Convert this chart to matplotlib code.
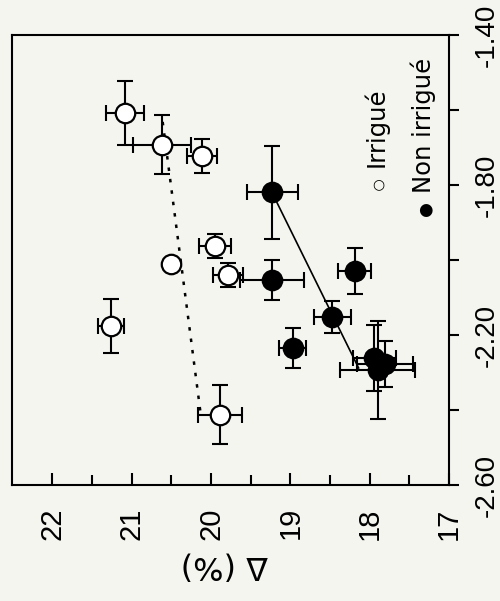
import matplotlib
matplotlib.use('Agg')
import matplotlib.pyplot as plt
from matplotlib import font_manager

# Irrigué (open circles)
delta_irr = [21.09, 20.62, 20.11, 19.95, 20.51, 19.79, 21.26, 19.89]
val_irr = [-1.609, -1.693, -1.722, -1.963, -2.011, -2.040, -2.176, -2.413]
xerr_irr = [0.24, 0.37, 0.19, 0.20, 0.0, 0.19, 0.16, 0.28]
yerr_irr = [0.085, 0.079, 0.045, 0.031, 0.0, 0.032, 0.071, 0.079]

# Non irrigué (filled circles)
delta_non = [19.23, 19.23, 18.19, 18.47, 18.97, 17.94, 17.81, 17.90]
val_non = [-1.820, -2.053, -2.029, -2.153, -2.234, -2.261, -2.277, -2.293]
xerr_non = [0.32, 0.40, 0.21, 0.23, 0.17, 0.27, 0.35, 0.47]
yerr_non = [0.125, 0.053, 0.061, 0.043, 0.053, 0.088, 0.061, 0.131]

# regression lines
fit_irr_x = [20.61, 20.135]
fit_irr_y = [-1.632, -2.404]
fit_non_x = [19.23, 18.14]
fit_non_y = [-1.821, -2.288]

xticks = [22, 21, 20, 19, 18, 17]
yticks = [-2.60, -2.20, -1.80, -1.40]
ytick_labels = ['-2.60', '-2.20', '-1.80', '-1.40']

# police étroite pour les graduations
names = {f.name for f in font_manager.fontManager.ttflist}
narrow = 'Liberation Sans Narrow' if 'Liberation Sans Narrow' in names else 'Liberation Sans'

bg = '#f3f5ee'
fig = plt.figure(figsize=(5, 6.01), dpi=100, facecolor=bg)
ax = fig.add_axes([0.024, 0.193, 0.874, 0.749])
ax.set_facecolor(bg)

ax.plot(fit_irr_x, fit_irr_y, color='black', lw=1.8, linestyle=(0, (1.4, 3.2)), zorder=1)
ax.plot(fit_non_x, fit_non_y, color='black', lw=1.2, zorder=1)

ax.errorbar(delta_irr, val_irr, xerr=xerr_irr, yerr=yerr_irr, fmt='none',
            ecolor='black', elinewidth=1.5, capsize=5.5, capthick=1.5, zorder=2)
ax.errorbar(delta_non, val_non, xerr=xerr_non, yerr=yerr_non, fmt='none',
            ecolor='black', elinewidth=1.5, capsize=5.5, capthick=1.5, zorder=2)
ax.plot(delta_irr, val_irr, 'o', ms=14, mfc='white', mec='black', mew=1.6, zorder=3)
ax.plot(delta_non, val_non, 'o', ms=14, mfc='black', mec='black', mew=1.6, zorder=3)

ax.set_xlim(22.51, 17)
ax.set_ylim(-2.60, -1.40)

for s in ax.spines.values():
    s.set_linewidth(1.5)

ax.set_xticks(xticks)
ax.set_xticklabels([str(t) for t in xticks], fontfamily=narrow, fontsize=21, rotation=90)
ax.set_xticks([21.5, 20.5, 19.5, 18.5, 17.5], minor=True)
ax.tick_params(axis='x', which='major', direction='in', length=9, width=1.5, pad=16)
ax.tick_params(axis='x', which='minor', direction='in', length=7, width=1.5)

ax.yaxis.tick_right()
ax.set_yticks(yticks)
ax.set_yticklabels(ytick_labels, fontfamily=narrow, fontsize=20, rotation=90)
ax.set_yticks([-2.4, -2.0, -1.6], minor=True)
ax.tick_params(axis='y', which='both', direction='out', length=7, width=1.5, pad=11)
for lbl in ax.get_yticklabels():
    lbl.set_va('center')

ax.set_xlabel('Δ (%)', fontsize=23, rotation=180, va='center')
ax.xaxis.set_label_coords(0.487, -0.178)

# légende en texte
fig.text(0.752, 0.722, 'Irrigué', rotation=90, ha='center', va='bottom', fontsize=17.5)
fig.text(0.756, 0.694, '○', ha='center', va='center', fontsize=10)
fig.text(0.846, 0.679, 'Non irrigué', rotation=90, ha='center', va='bottom', fontsize=17.5)
fig.text(0.850, 0.651, '●', ha='center', va='center', fontsize=12)

fig.savefig('out.png', dpi=100, facecolor=bg)
